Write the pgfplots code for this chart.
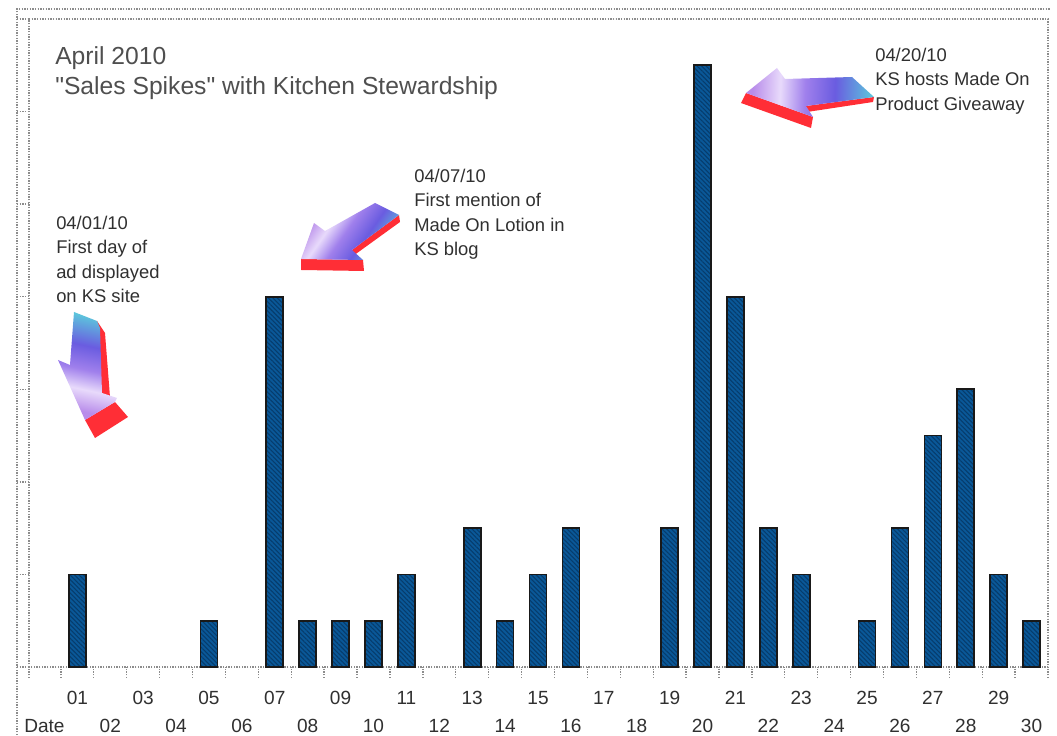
\documentclass[border=0pt]{standalone}
\usepackage{pgfplots}
\pgfplotsset{compat=1.18}
\usetikzlibrary{patterns.meta}
\usepackage{fontspec}
\setmainfont{Liberation Sans}
\newfontfamily\titlefont{Liberation Sans}
\definecolor{barblue}{HTML}{0A5898}
\definecolor{bardark}{HTML}{063C6C}
\definecolor{axisgray}{HTML}{8C8C8C}
\definecolor{txt}{HTML}{303030}
\definecolor{arrowred}{HTML}{FF2E36}
\definecolor{aA}{HTML}{B88CEA}
\definecolor{aB}{HTML}{E8DAFB}
\definecolor{aC}{HTML}{A080EC}
\definecolor{aD}{HTML}{6A5CE0}
\definecolor{aE}{HTML}{5CC6DC}
\pgfdeclareverticalshading{ksarrow}{100bp}{
 color(0bp)=(aA);
 color(27bp)=(aA);
 color(38bp)=(aB);
 color(48bp)=(aC);
 color(60bp)=(aD);
 color(75bp)=(aE);
 color(100bp)=(aE)}
\newcommand{\lo}[1]{\raisebox{-24pt}[7pt][0pt]{#1}}
\newcommand{\annot}{\fontsize{13.8}{18.3}\selectfont}
\begin{document}
\begin{tikzpicture}
\path (0,0) rectangle (792.75pt,551.25pt);
\begin{axis}[
  at={(21.75pt,51pt)}, anchor=south west,
  scale only axis, width=764.25pt, height=486pt,
  xmin=-0.47, xmax=30.5, ymin=0, ymax=14,
  axis line style={axisgray, densely dotted, line width=1pt},
  tick align=outside,
  xtick pos=bottom, ytick pos=left,
  ytick={0,2,...,14}, yticklabels={},
  major tick length=9pt,
  minor tick length=8.25pt,
  every tick/.style={axisgray, densely dotted, line width=1pt},
  major x tick style={draw=none},
  xtick={0,...,30},
  minor xtick={-0.47,0.5,1.5,...,30.5},
  xticklabels={\lo{Date},01,\lo{02},03,\lo{04},05,\lo{06},07,\lo{08},09,\lo{10},11,\lo{12},13,\lo{14},15,\lo{16},17,\lo{18},19,\lo{20},21,\lo{22},23,\lo{24},25,\lo{26},27,\lo{28},29,\lo{30}},
  xticklabel style={font=\fontsize{14.3}{16}\selectfont, text=txt, yshift=-5.5pt},
  ybar, bar width=12.75pt, 
  clip=false,
]
\addplot[draw=black!90, line width=1.2pt, fill=barblue,
   postaction={pattern={Lines[angle=-45,distance=2.4pt,line width=.8pt]}, pattern color=bardark}] coordinates {
 (1,2) (5,1) (7,8) (8,1) (9,1) (10,1) (11,2) (13,3) (14,1) (15,2) (16,3)
 (19,3) (20,13) (21,8) (22,3) (23,2) (25,1) (26,3) (27,5) (28,6) (29,2) (30,1)};
\end{axis}
\begin{scope}[x=.75pt,y=-.75pt,yshift=551.25pt]
 % outer frame lines
 \draw[axisgray, densely dotted, line width=1pt] (17,735) -- (17,9) -- (1050,9);
 \draw[axisgray, densely dotted, line width=1pt] (17,19) -- (29,19);
 % titles
 \node[anchor=west, inner sep=0, text=txt!85!white, font=\titlefont\fontsize{18.5}{22}\selectfont] at (55,58) {April 2010};
 \node[anchor=west, inner sep=0, text=txt!85!white, font=\titlefont\fontsize{18.5}{22}\selectfont] at (55,88) {"Sales Spikes" with Kitchen Stewardship};
 % annotations
 \node[anchor=north west, inner sep=0, align=left, text=txt, font=\annot] at (56,216) {04/01/10\\First day of\\ad displayed\\on KS site};
 \node[anchor=north west, inner sep=0, align=left, text=txt, font=\annot] at (414,169) {04/07/10\\First mention of\\Made On Lotion in\\KS blog};
 \node[anchor=north west, inner sep=0, align=left, text=txt, font=\annot] at (875,48) {04/20/10\\KS hosts Made On\\Product Giveaway};
 % arrow 1
 \fill[arrowred] (97,321) -- (105,333) -- (110,397) -- (100,397) -- cycle;
 \fill[arrowred] (115,402) -- (128,417) -- (95,438) -- (85,420) -- cycle;
 \shade[shading=ksarrow, shading angle=-12] (74,312) -- (97,321) -- (100,328) -- (102,393) -- (117,398) -- (115,402) -- (85,420) -- (58,360) -- (70,365) -- cycle;
 % arrow 2
 \fill[arrowred] (301,259) -- (363,260) -- (364,271) -- (301,270) -- cycle;
 \fill[arrowred] (399,215) -- (400,222) -- (353,256) -- (352,250) -- cycle;
 \shade[shading=ksarrow, shading angle=-125] (375,203) -- (399,215) -- (352,250) -- (363,260) -- (301,259) -- (314,223) -- (325,231) -- cycle;
 % arrow 3
 \fill[arrowred] (746,93) -- (813,117) -- (811,128) -- (741,103) -- cycle;
 \fill[arrowred] (806,106) -- (874,97) -- (873,102) -- (807,112) -- cycle;
 \shade[shading=ksarrow, shading angle=-92] (777,68) -- (785,79) -- (852,77) -- (874,97) -- (806,106) -- (813,117) -- (746,93) -- cycle;
\end{scope}
\end{tikzpicture}
\end{document}
